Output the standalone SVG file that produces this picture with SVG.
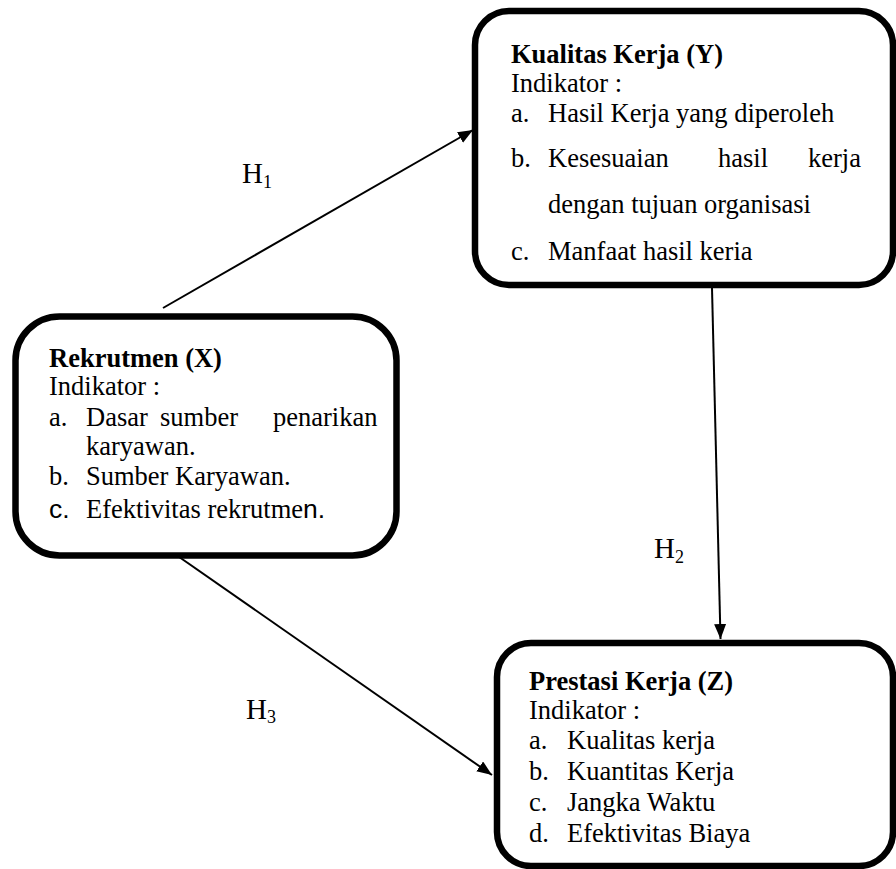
<svg xmlns="http://www.w3.org/2000/svg" width="896" height="869" viewBox="0 0 896 869">
<style>
.box{fill:#fff;stroke:#000;stroke-width:6.5}
.t{font-family:"Liberation Serif","Times New Roman",serif;font-size:26.5px;fill:#000}
.b{font-weight:bold}
.sans{font-family:"Liberation Sans",Arial,sans-serif}
.conn{stroke:#000;stroke-width:2;fill:none;marker-end:url(#ah)}
.h{font-family:"Liberation Serif","Times New Roman",serif;font-size:29px;fill:#000}
.sub{font-size:18px}
</style>
<defs>
<marker id="ah" markerUnits="userSpaceOnUse" markerWidth="16" markerHeight="13" refX="15" refY="6" orient="auto">
<path d="M0,0 L15,6 L0,12 z" fill="#000"/>
</marker>
</defs>
<rect width="896" height="869" fill="#fff"/>
<g id="connectors">
<line class="conn" x1="163" y1="308" x2="473" y2="130"/>
<line class="conn" x1="712" y1="288" x2="720.5" y2="639"/>
<line class="conn" x1="172" y1="552" x2="492" y2="775"/>
<text class="h" x="242" y="183">H<tspan class="sub" x="263" y="188">1</tspan></text>
<text class="h" x="654" y="558">H<tspan class="sub" x="675" y="563">2</tspan></text>
<text class="h" x="246" y="719">H<tspan class="sub" x="267" y="723">3</tspan></text>
</g>
<g id="node-y">
<rect class="box" x="475" y="11" width="418" height="274" rx="34"/>
<text class="t b" x="511" y="63">Kualitas Kerja (Y)</text>
<text class="t" x="511" y="92">Indikator :</text>
<text class="t" x="511" y="122">a.<tspan x="548">Hasil Kerja yang diperoleh</tspan></text>
<text class="t" x="511" y="167">b.<tspan x="548">Kesesuaian</tspan><tspan x="718">hasil</tspan><tspan x="808">kerja</tspan></text>
<text class="t" x="548" y="213">dengan tujuan organisasi</text>
<text class="t" x="511" y="260">c.<tspan x="548">Manfaat hasil keria</tspan></text>
</g>
<g id="node-x">
<rect class="box" x="15.5" y="316.5" width="381" height="239" rx="44"/>
<text class="t b" x="49" y="367">Rekrutmen (X)</text>
<text class="t" x="49" y="395">Indikator :</text>
<text class="t" x="49" y="426">a.<tspan x="86">Dasar</tspan><tspan x="160">sumber</tspan><tspan x="273">penarikan</tspan></text>
<text class="t" x="86" y="455">karyawan.</text>
<text class="t" x="49" y="485">b.<tspan x="86">Sumber Karyawan.</tspan></text>
<text class="t" x="49" y="518"><tspan class="sans">c.</tspan><tspan x="86">Efektivitas rekrutme</tspan><tspan class="sans">n.</tspan></text>
</g>
<g id="node-z">
<rect class="box" x="497" y="643" width="396" height="223" rx="34"/>
<text class="t b" x="529" y="690">Prestasi Kerja (Z)</text>
<text class="t" x="529" y="719">Indikator :</text>
<text class="t" x="529" y="749">a.<tspan x="567">Kualitas kerja</tspan></text>
<text class="t" x="529" y="780">b.<tspan x="567">Kuantitas Kerja</tspan></text>
<text class="t" x="529" y="811">c.<tspan x="567">Jangka Waktu</tspan></text>
<text class="t" x="529" y="842">d.<tspan x="567">Efektivitas Biaya</tspan></text>
</g>
</svg>
